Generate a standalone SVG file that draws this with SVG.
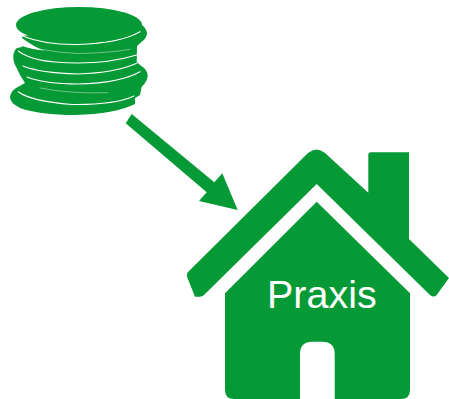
<svg xmlns="http://www.w3.org/2000/svg" width="449" height="399" viewBox="0 0 449 399">
<style>
.g{fill:#059a35}
.w{fill:none;stroke:#fff;stroke-width:1.1;stroke-linecap:round}
.f{fill:none;stroke:#fff;stroke-width:.6;stroke-linecap:round;opacity:.7}
text{font-family:"Liberation Sans",Arial,sans-serif;font-size:39.500px;fill:#fff}
</style>
<g id="coins">
<path class="g" d="M22 36L142 25Q147 29 147 34Q146 39 141.700 41.700L137 46L136.700 62L140 65Q148 70 147.700 76Q147 82 141.700 86.700L140 95L135 98V104Q115 114 75 115Q40 115 20 108Q10 103 10 97Q11 91 16 88L25 83L20 75L16.700 68Q13 62 13.300 56Q14 50 17 48L22 47Z"/>
<path fill="#fff" d="M17 34Q18 37 22 38Q34 47 44 50.500Q31 49 22 46L18 43Z"/>
<path class="w" d="M22.500 36Q45 45 78 44.500Q120 43 140 31.700"/>
<path class="f" d="M42 49.500Q60 53 78 53.500Q110 53 130 49.300"/>
<path class="w" d="M18.300 51Q30 60 55 62Q100 66 136.700 55"/>
<path class="w" d="M23 66Q40 73 78 74Q115 73 136.700 63.300"/>
<path class="w" d="M27 77Q45 84 78 84Q120 83 140 71.700"/>
<path class="f" d="M40 88Q70 94 108 92.700"/>
<path class="w" d="M18.300 91.700Q30 101 72 104.500Q115 105 134 96"/>
<ellipse class="g" cx="79" cy="25" rx="63" ry="18"/>
</g>
<g id="connectors">
<path class="g" d="M131.700 114L214.300 182.300L222.300 173.300L237.700 210L199 201L206.700 192.300L125.700 123.300Z"/>
</g>
<g id="house">
<path class="g" d="M308 153Q316.700 146 325 153L368.300 192.700V155Q368.300 152.300 371 152.300H409V239L449 278L436.700 295Q434 298 430 295L316.700 184L205 294Q203 296.700 200 296.700H195L187.500 278Q186 274 188 272Z"/>
<path class="g" fill-rule="evenodd" d="M316.700 201.700L410 293.300V390Q410 399 401 399H234Q225 399 225 390V293.300ZM300 399H334.700V354Q334.700 341.700 322 341.700H312.500Q300 341.700 300 354Z"/>
<text x="267" y="307.700">Praxis</text>
</g>
</svg>
